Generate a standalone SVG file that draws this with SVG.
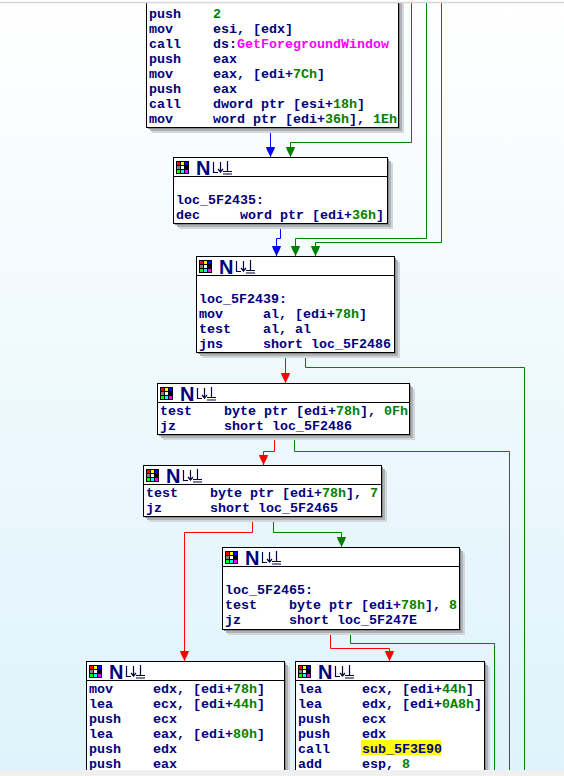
<svg xmlns="http://www.w3.org/2000/svg" xmlns:xlink="http://www.w3.org/1999/xlink" width="564" height="776" viewBox="0 0 564 776">
<defs>
<linearGradient id="bg" x1="0" y1="0" x2="0" y2="1">
<stop offset="0" stop-color="#ffffff"/>
<stop offset="1" stop-color="#def3fb"/>
</linearGradient>
<marker id="aB" viewBox="0 0 10 10" refX="10" refY="5" markerWidth="10" markerHeight="10" markerUnits="userSpaceOnUse" orient="auto"><path d="M0,0.5 L3,1.5 L10,5 L3,8.5 L0,9.5 Z" fill="#0000ff"/></marker>
<marker id="aG" viewBox="0 0 10 10" refX="10" refY="5" markerWidth="10" markerHeight="10" markerUnits="userSpaceOnUse" orient="auto"><path d="M0,0.5 L3,1.5 L10,5 L3,8.5 L0,9.5 Z" fill="#008000"/></marker>
<marker id="aR" viewBox="0 0 10 10" refX="10" refY="5" markerWidth="10" markerHeight="10" markerUnits="userSpaceOnUse" orient="auto"><path d="M0,0.5 L3,1.5 L10,5 L3,8.5 L0,9.5 Z" fill="#ff0000"/></marker>
<g id="grid">
<rect x="0" y="0" width="13" height="13" fill="#000"/>
<rect x="1" y="1" width="3" height="3" fill="#ff0000"/>
<rect x="5" y="1" width="3" height="3" fill="#ffff00"/>
<rect x="9" y="1" width="3" height="3" fill="#0000ff"/>
<rect x="1" y="5" width="3" height="3" fill="#808080"/>
<rect x="5" y="5" width="3" height="3" fill="#ffffff"/>
<rect x="9" y="5" width="3" height="3" fill="#000000"/>
<rect x="1" y="9" width="3" height="3" fill="#00ff00"/>
<rect x="5" y="9" width="3" height="3" fill="#00ffff"/>
<rect x="9" y="9" width="3" height="3" fill="#ff00ff"/>
</g>
<g id="glyph" fill="none" stroke="#000040" stroke-width="1.2">
<path d="M1.5,3 V13.5 H6"/>
<path d="M8.5,3 V12"/>
<path d="M6,10 L8.5,13 L11,10"/>
<path d="M15.5,2 V12.5 M11,12.5 H20 M11,15 H20"/>
</g>
</defs>
<style>
.box{fill:#ffffff;stroke:#000000;stroke-width:1}
.sep{stroke:#000000;stroke-width:1}
.s1{fill:#d3d7da}
.s2{fill:#aeb2b5}
.s3{fill:#878b8e}
.t{font-family:"Liberation Mono","DejaVu Sans Mono",monospace;font-size:13.33px;font-weight:bold;fill:#000080}
.g{fill:#008000}
.m{fill:#ff00ff}
.N{font-family:"Liberation Sans","DejaVu Sans",sans-serif;font-size:20px;font-weight:bold;fill:#000080}
.c{fill:none;stroke-width:1}
.cb{stroke:#0000ff}
.cg{stroke:#008000}
.cr{stroke:#ff0000}
</style>
<rect x="0" y="0" width="564" height="776" fill="url(#bg)"/>

<g id="connectors">
<polyline class="c cb" points="270.5,127 270.5,157" marker-end="url(#aB)"/>
<polyline class="c cg" points="411.5,0 411.5,142.5 290.5,142.5 290.5,157" marker-end="url(#aG)"/>
<polyline class="c cb" points="280.5,223 280.5,238.5 276.5,238.5 276.5,256" marker-end="url(#aB)"/>
<polyline class="c cg" points="426.5,0 426.5,238.5 295.5,238.5 295.5,256" marker-end="url(#aG)"/>
<polyline class="c cg" points="441.5,0 441.5,242.5 315.5,242.5 315.5,256" marker-end="url(#aG)"/>
<polyline class="c cr" points="285.5,352 285.5,383" marker-end="url(#aR)"/>
<polyline class="c cg" points="305.5,352 305.5,367.5 524.5,367.5 524.5,776"/>
<polyline class="c cr" points="274.5,434 274.5,451.5 263.5,451.5 263.5,465" marker-end="url(#aR)"/>
<polyline class="c cg" points="294.5,434 294.5,451.5 509.5,451.5 509.5,776"/>
<polyline class="c cr" points="252.5,516 252.5,532.5 184.5,532.5 184.5,661" marker-end="url(#aR)"/>
<polyline class="c cg" points="273.5,516 273.5,532.5 341.5,532.5 341.5,547" marker-end="url(#aG)"/>
<polyline class="c cr" points="330.5,629 330.5,648.5 389.5,648.5 389.5,661" marker-end="url(#aR)"/>
<polyline class="c cg" points="350.5,629 350.5,643.5 494.5,643.5 494.5,776"/>
</g>

<g id="node_top">
<rect class="s1" x="152" y="-24" width="252" height="157"/>
<rect class="s2" x="150" y="-26" width="252" height="157"/>
<rect class="s3" x="148" y="-28" width="252" height="157"/>
<rect class="box" x="146.5" y="-30" width="252" height="157.5"/>
<text class="t" x="149" y="18">push</text><text class="t" x="213" y="18"><tspan class="g">2</tspan></text>
<text class="t" x="149" y="33">mov</text><text class="t" x="213" y="33">esi, [edx]</text>
<text class="t" x="149" y="48">call</text><text class="t" x="213" y="48">ds:<tspan class="m">GetForegroundWindow</tspan></text>
<text class="t" x="149" y="63">push</text><text class="t" x="213" y="63">eax</text>
<text class="t" x="149" y="78">mov</text><text class="t" x="213" y="78">eax, [edi+<tspan class="g">7Ch</tspan>]</text>
<text class="t" x="149" y="93">push</text><text class="t" x="213" y="93">eax</text>
<text class="t" x="149" y="108">call</text><text class="t" x="213" y="108">dword ptr [esi+<tspan class="g">18h</tspan>]</text>
<text class="t" x="149" y="123">mov</text><text class="t" x="213" y="123">word ptr [edi+<tspan class="g">36h</tspan>], <tspan class="g">1Eh</tspan></text>
</g>

<g id="node_loc_5F2435">
<rect class="s1" x="179" y="163" width="214" height="66"/>
<rect class="s2" x="177" y="161" width="214" height="66"/>
<rect class="s3" x="175" y="159" width="214" height="66"/>
<rect class="box" x="173.5" y="157.5" width="214" height="66"/>
<line class="sep" x1="173.5" y1="176.5" x2="387.5" y2="176.5"/>
<use xlink:href="#grid" x="176" y="161"/>
<text class="N" x="196" y="175">N</text>
<use xlink:href="#glyph" x="212" y="159"/>
<text class="t" x="176" y="204">loc_5F2435:</text>
<text class="t" x="176" y="219">dec</text><text class="t" x="240" y="219">word ptr [edi+<tspan class="g">36h</tspan>]</text>
</g>

<g id="node_loc_5F2439">
<rect class="s1" x="202" y="262" width="198" height="96"/>
<rect class="s2" x="200" y="260" width="198" height="96"/>
<rect class="s3" x="198" y="258" width="198" height="96"/>
<rect class="box" x="196.5" y="256.5" width="198" height="96"/>
<line class="sep" x1="196.5" y1="275.5" x2="394.5" y2="275.5"/>
<use xlink:href="#grid" x="199" y="260"/>
<text class="N" x="219" y="274">N</text>
<use xlink:href="#glyph" x="235" y="258"/>
<text class="t" x="199" y="303">loc_5F2439:</text>
<text class="t" x="199" y="318">mov</text><text class="t" x="263" y="318">al, [edi+<tspan class="g">78h</tspan>]</text>
<text class="t" x="199" y="333">test</text><text class="t" x="263" y="333">al, al</text>
<text class="t" x="199" y="348">jns</text><text class="t" x="263" y="348">short loc_5F2486</text>
</g>

<g id="node_test_0Fh">
<rect class="s1" x="163" y="389" width="252" height="51"/>
<rect class="s2" x="161" y="387" width="252" height="51"/>
<rect class="s3" x="159" y="385" width="252" height="51"/>
<rect class="box" x="157.5" y="383.5" width="252" height="51"/>
<line class="sep" x1="157.5" y1="402.5" x2="409.5" y2="402.5"/>
<use xlink:href="#grid" x="160" y="387"/>
<text class="N" x="180" y="401">N</text>
<use xlink:href="#glyph" x="196" y="385"/>
<text class="t" x="160" y="415">test</text><text class="t" x="224" y="415">byte ptr [edi+<tspan class="g">78h</tspan>], <tspan class="g">0Fh</tspan></text>
<text class="t" x="160" y="430">jz</text><text class="t" x="224" y="430">short loc_5F2486</text>
</g>

<g id="node_test_7">
<rect class="s1" x="149" y="471" width="238" height="51"/>
<rect class="s2" x="147" y="469" width="238" height="51"/>
<rect class="s3" x="145" y="467" width="238" height="51"/>
<rect class="box" x="143.5" y="465.5" width="238" height="51"/>
<line class="sep" x1="143.5" y1="484.5" x2="381.5" y2="484.5"/>
<use xlink:href="#grid" x="146" y="469"/>
<text class="N" x="166" y="483">N</text>
<use xlink:href="#glyph" x="182" y="467"/>
<text class="t" x="146" y="497">test</text><text class="t" x="210" y="497">byte ptr [edi+<tspan class="g">78h</tspan>], <tspan class="g">7</tspan></text>
<text class="t" x="146" y="512">jz</text><text class="t" x="210" y="512">short loc_5F2465</text>
</g>

<g id="node_loc_5F2465">
<rect class="s1" x="228" y="553" width="237" height="82"/>
<rect class="s2" x="226" y="551" width="237" height="82"/>
<rect class="s3" x="224" y="549" width="237" height="82"/>
<rect class="box" x="222.5" y="547.5" width="237" height="82"/>
<line class="sep" x1="222.5" y1="566.5" x2="459.5" y2="566.5"/>
<use xlink:href="#grid" x="225" y="551"/>
<text class="N" x="245" y="565">N</text>
<use xlink:href="#glyph" x="261" y="549"/>
<text class="t" x="225" y="594">loc_5F2465:</text>
<text class="t" x="225" y="609">test</text><text class="t" x="289" y="609">byte ptr [edi+<tspan class="g">78h</tspan>], <tspan class="g">8</tspan></text>
<text class="t" x="225" y="624">jz</text><text class="t" x="289" y="624">short loc_5F247E</text>
</g>

<g id="node_left">
<rect class="s1" x="92" y="667" width="198" height="140"/>
<rect class="s2" x="90" y="665" width="198" height="140"/>
<rect class="s3" x="88" y="663" width="198" height="140"/>
<rect class="box" x="86.5" y="661.5" width="198" height="140"/>
<line class="sep" x1="86.5" y1="680.5" x2="284.5" y2="680.5"/>
<use xlink:href="#grid" x="89" y="665"/>
<text class="N" x="109" y="679">N</text>
<use xlink:href="#glyph" x="125" y="663"/>
<text class="t" x="89" y="693">mov</text><text class="t" x="153" y="693">edx, [edi+<tspan class="g">78h</tspan>]</text>
<text class="t" x="89" y="708">lea</text><text class="t" x="153" y="708">ecx, [edi+<tspan class="g">44h</tspan>]</text>
<text class="t" x="89" y="723">push</text><text class="t" x="153" y="723">ecx</text>
<text class="t" x="89" y="738">lea</text><text class="t" x="153" y="738">eax, [edi+<tspan class="g">80h</tspan>]</text>
<text class="t" x="89" y="753">push</text><text class="t" x="153" y="753">edx</text>
<text class="t" x="89" y="768">push</text><text class="t" x="153" y="768">eax</text>
</g>

<g id="node_right">
<rect class="s1" x="301" y="667" width="189" height="140"/>
<rect class="s2" x="299" y="665" width="189" height="140"/>
<rect class="s3" x="297" y="663" width="189" height="140"/>
<rect class="box" x="295.5" y="661.5" width="189" height="140"/>
<line class="sep" x1="295.5" y1="680.5" x2="484.5" y2="680.5"/>
<use xlink:href="#grid" x="298" y="665"/>
<text class="N" x="318" y="679">N</text>
<use xlink:href="#glyph" x="334" y="663"/>
<rect x="361" y="740" width="80" height="15" fill="#ffff00"/>
<text class="t" x="298" y="693">lea</text><text class="t" x="362" y="693">ecx, [edi+<tspan class="g">44h</tspan>]</text>
<text class="t" x="298" y="708">lea</text><text class="t" x="362" y="708">edx, [edi+<tspan class="g">0A8h</tspan>]</text>
<text class="t" x="298" y="723">push</text><text class="t" x="362" y="723">ecx</text>
<text class="t" x="298" y="738">push</text><text class="t" x="362" y="738">edx</text>
<text class="t" x="298" y="753">call</text><text class="t" x="362" y="753">sub_5F3E90</text>
<text class="t" x="298" y="768">add</text><text class="t" x="362" y="768">esp, <tspan class="g">8</tspan></text>
</g>

<rect x="0" y="0" width="564" height="2" fill="#ffffff"/>
<line x1="0" y1="2.5" x2="564" y2="2.5" stroke="#d6d6d6" stroke-width="1.5"/>
<rect x="0" y="770" width="564" height="6" fill="#f0f0f0"/>
</svg>
